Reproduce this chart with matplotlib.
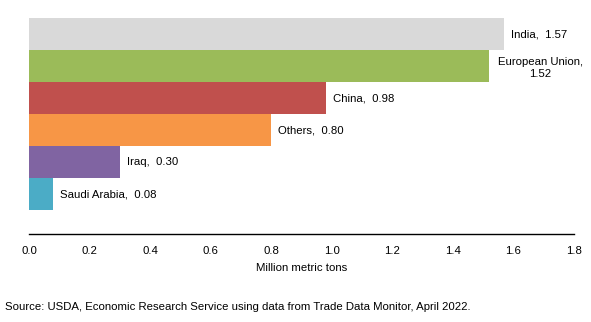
import matplotlib
matplotlib.use("Agg")
import matplotlib.pyplot as plt

categories = ["India", "European Union", "China", "Others", "Iraq", "Saudi Arabia"]
values = [1.57, 1.52, 0.98, 0.80, 0.30, 0.08]
labels = ["India,  1.57", "European Union,\n1.52", "China,  0.98", "Others,  0.80", "Iraq,  0.30", "Saudi Arabia,  0.08"]
colors = ["#D9D9D9", "#9BBB59", "#C0504D", "#F79646", "#8064A2", "#4BACC6"]
xticks = [0.0, 0.2, 0.4, 0.6, 0.8, 1.0, 1.2, 1.4, 1.6, 1.8]

plt.rcParams['font.family'] = ['Liberation Sans', 'DejaVu Sans']
FS = 8.2

fig = plt.figure(figsize=(5.91, 3.22), dpi=100)
ax = fig.add_axes([29/591, 1-234/322, (574-29)/591, (234-18)/322])

pos = list(range(len(categories)))
ax.barh(pos, values, height=1.0, color=colors, edgecolor='none')
ax.set_ylim(6.25, -0.5)
ax.set_xlim(0, 1.8)
ax.set_xticks(xticks)
ax.set_xticklabels([f"{t:.1f}" for t in xticks], fontsize=FS)
ax.tick_params(axis='x', length=0, pad=9)
ax.set_yticks([])
for s in ['top', 'right', 'left']:
    ax.spines[s].set_visible(False)
ax.spines['bottom'].set_linewidth(1.0)
ax.spines['bottom'].set_color('black')
ax.set_xlabel("Million metric tons", fontsize=FS, labelpad=5)

for i, (v, lab) in enumerate(zip(values, labels)):
    if "\n" in lab:
        ax.annotate(lab, (v, i), xytext=(37, -1.5), textcoords='offset points',
                    ha='center', va='center', fontsize=FS, multialignment='center',
                    linespacing=1.3)
    else:
        ax.annotate(lab, (v, i), xytext=(5, 0), textcoords='offset points',
                    ha='left', va='center', fontsize=FS)

fig.text(5/591, 1-307/322, "Source: USDA, Economic Research Service using data from Trade Data Monitor, April 2022.",
         fontsize=FS, ha='left', va='center')

fig.savefig("out.png", dpi=100)
